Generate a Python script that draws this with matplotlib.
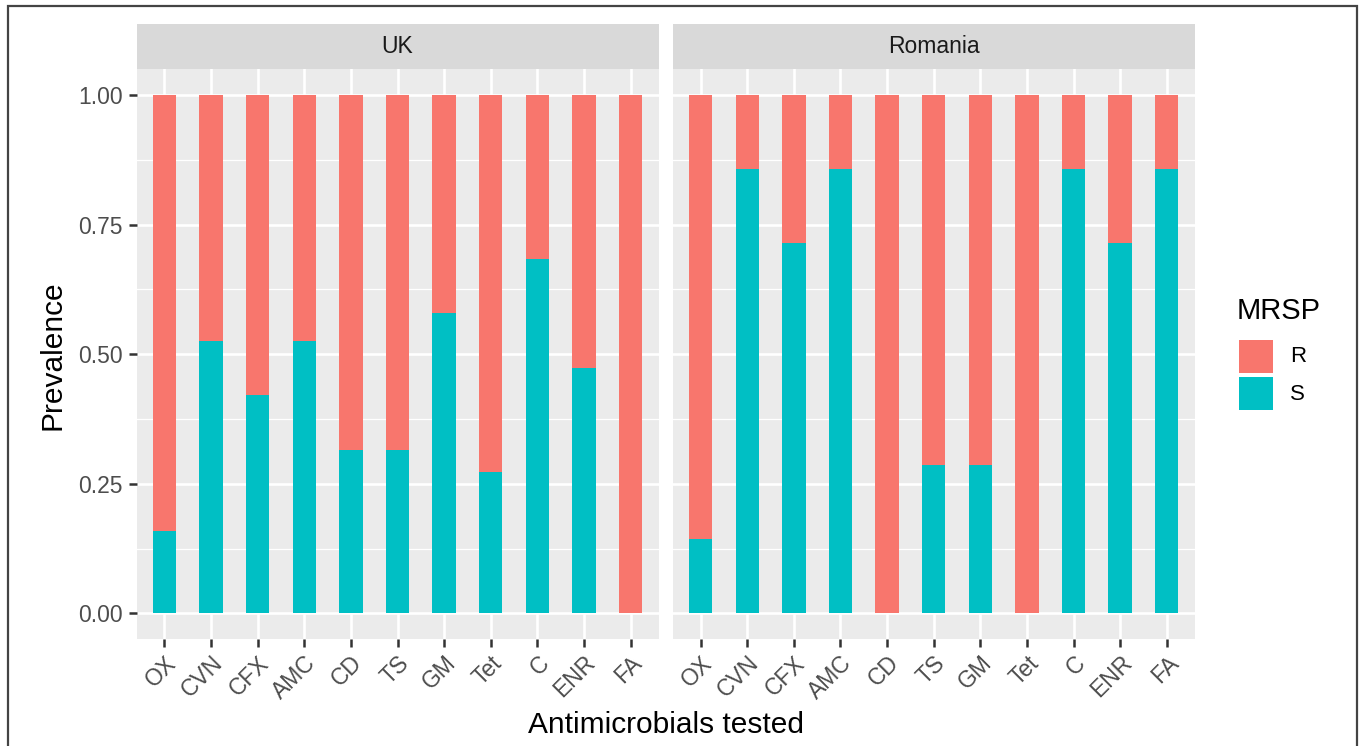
import matplotlib
matplotlib.use("Agg")
import matplotlib.pyplot as plt
from matplotlib.patches import Rectangle
import numpy as np

plt.rcParams["font.family"] = ["Liberation Sans", "DejaVu Sans"]

# Antimicrobials and susceptibility proportions per country
drugs = ["OX", "CVN", "CFX", "AMC", "CD", "TS", "GM", "Tet", "C", "ENR", "FA"]
uk_S = [0.158, 0.526, 0.421, 0.526, 0.316, 0.316, 0.579, 0.273, 0.684, 0.474, 0.0]
uk_R = [0.842, 0.474, 0.579, 0.474, 0.684, 0.684, 0.421, 0.727, 0.316, 0.526, 1.0]
ro_S = [0.143, 0.857, 0.714, 0.857, 0.0, 0.286, 0.286, 0.0, 0.857, 0.714, 0.857]
ro_R = [0.857, 0.143, 0.286, 0.143, 1.0, 0.714, 0.714, 1.0, 0.143, 0.286, 0.143]
panels = ["UK", "Romania"]
y_ticks = [0.0, 0.25, 0.5, 0.75, 1.0]
y_tick_labels = ["0.00", "0.25", "0.50", "0.75", "1.00"]

COL_R = "#F8766D"
COL_S = "#00BFC4"
PANEL_BG = "#EBEBEB"
STRIP_BG = "#D9D9D9"
TXT = "#4D4D4D"

W, H = 1360, 746
fig = plt.figure(figsize=(W / 100, H / 100), dpi=100)
fig.patch.set_facecolor("white")

def fx(px):
    return px / W

def fy(py):
    return 1 - py / H

# outer border
fig.add_artist(Rectangle((fx(8), fy(760)), fx(1357 - 8), (760 - 6) / H,
                         transform=fig.transFigure, fill=False,
                         edgecolor="#444444", lw=1.6))

panel_top, panel_bot = 69.0, 639.3
strip_top = 24.0
lefts = [136.5, 672.7]
pw = 522.0
data = [(uk_S, uk_R), (ro_S, ro_R)]

x = np.arange(len(drugs))
for i, (name, (S, R)) in enumerate(zip(panels, data)):
    ax = fig.add_axes([fx(lefts[i]), fy(panel_bot), fx(pw), (panel_bot - panel_top) / H])
    ax.set_facecolor(PANEL_BG)
    ax.bar(x, S, width=0.5, color=COL_S, zorder=3)
    ax.bar(x, R, width=0.5, bottom=S, color=COL_R, zorder=3)
    ax.set_xlim(-0.6, len(drugs) - 1 + 0.6)
    ax.set_ylim(-0.05, 1.05)
    for v in np.arange(0.125, 1.0, 0.25):
        ax.axhline(v, color="white", lw=0.9, zorder=1)
    for v in y_ticks:
        ax.axhline(v, color="white", lw=1.9, zorder=1)
    for v in x:
        ax.axvline(v, color="white", lw=1.9, zorder=1)
    for s in ax.spines.values():
        s.set_visible(False)
    ax.set_xticks(x)
    ax.set_xticklabels(drugs, rotation=45, ha="right", rotation_mode="anchor",
                       fontsize=16.5, color=TXT)
    ax.tick_params(axis="x", length=5.8, width=1.8, color="#333333", pad=3)
    ax.set_yticks(y_ticks)
    if i == 0:
        ax.set_yticklabels(y_tick_labels, fontsize=16.5, color=TXT)
        ax.tick_params(axis="y", length=5.8, width=1.8, color="#333333", pad=4)
    else:
        ax.tick_params(axis="y", length=0, labelleft=False)

    sax = fig.add_axes([fx(lefts[i]), fy(panel_top), fx(pw), (panel_top - strip_top) / H])
    sax.set_facecolor(STRIP_BG)
    sax.set_xticks([])
    sax.set_yticks([])
    for s in sax.spines.values():
        s.set_visible(False)
    sax.text(0.5, 0.5, name, ha="center", va="center", fontsize=16.5,
             color="#1A1A1A", transform=sax.transAxes)

fig.text(fx(53), fy(355), "Prevalence", rotation=90, ha="center", va="center",
         fontsize=21.5, color="black")
fig.text(fx(666), fy(725), "Antimicrobials tested", ha="center", va="center",
         fontsize=21.5, color="black")

# legend
fig.text(fx(1237), fy(311), "MRSP", ha="left", va="center", fontsize=21, color="black")
for j, (lab, col) in enumerate([("R", COL_R), ("S", COL_S)]):
    top = 340 + j * 37
    fig.add_artist(Rectangle((fx(1239), fy(top + 33)), fx(34), 33 / H,
                             transform=fig.transFigure, facecolor=col,
                             edgecolor="none"))
    fig.text(fx(1290), fy(top + 17), lab, ha="left", va="center", fontsize=16,
             color="black")

fig.savefig("out.png", dpi=100)
